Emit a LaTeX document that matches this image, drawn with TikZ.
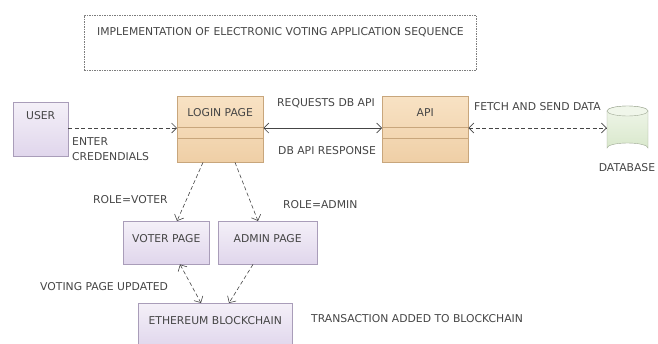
\documentclass[tikz,border=0pt]{standalone}
\usepackage{fontspec}
\setmainfont{DejaVu Sans}
\usepackage{tikz}
\usetikzlibrary{arrows.meta}

\definecolor{lavtop}{HTML}{F4F0F8}
\definecolor{lavbot}{HTML}{E0D6EC}
\definecolor{lavline}{HTML}{A99DB9}
\definecolor{tantop}{HTML}{F8E2C4}
\definecolor{tanbot}{HTML}{EFCFA6}
\definecolor{tanline}{HTML}{C8A67C}
\definecolor{dbtop}{HTML}{F0F6EA}
\definecolor{dbbot}{HTML}{D9E8CC}
\definecolor{dbline}{HTML}{9EA894}
\definecolor{txt}{HTML}{454545}

\tikzset{
    lbl/.style={font=\fontsize{10.8}{12}\selectfont, text=txt, inner sep=0pt},
    pagebox/.style={lbl, draw=lavline, top color=lavtop, bottom color=lavbot, anchor=north west},
    classbox/.style={lbl, draw=tanline, top color=tantop, bottom color=tanbot,
        minimum width=86pt, minimum height=66pt, anchor=north west, text height=20pt, text depth=46pt},
    tip/.style={Straight Barb[length=5pt,width=10pt]},
    flow/.style={dash pattern=on 4pt off 2.5pt, draw=txt, line width=0.6pt, -{Straight Barb[length=5pt,width=10pt]}},
    dflow/.style={flow, {Straight Barb[length=5pt,width=10pt]}-{Straight Barb[length=5pt,width=10pt]}}
}

\begin{document}
\begin{tikzpicture}[x=1pt, y=-1pt]
    \useasboundingbox (0,0) rectangle (658,343);
    % title
    \node[draw=txt!70, dash pattern=on 1.5pt off 1pt, minimum width=392pt, minimum height=55pt,
        anchor=north west] (title) at (84,15) {};
    \node[lbl, anchor=west] (titletext) at (97,32) {IMPLEMENTATION OF ELECTRONIC VOTING APPLICATION SEQUENCE};

    % top row
    \node[pagebox, minimum width=55pt, minimum height=54pt, text height=17pt,
        text depth=37pt] (user) at (13,102) {USER};
    \node[classbox] (login) at (177,96) {LOGIN PAGE};
    \node[classbox] (api) at (382,96) {API};
    \draw[tanline] (177,127) -- (263,127) (177,138) -- (263,138);
    \draw[tanline] (382,127) -- (468,127) (382,138) -- (468,138);
    % database cylinder
    \node[minimum width=41pt, minimum height=47pt, inner sep=0pt] (db) at (627.5,129.5) {};
    \draw[dbline, top color=dbtop, bottom color=dbbot] (607,111) -- (607,148)
        arc[start angle=180, end angle=0, x radius=20.5pt, y radius=5pt] -- (648,111)
        arc[start angle=0, end angle=180, x radius=20.5pt, y radius=5pt] -- cycle;
    \draw[dbline, fill=dbtop] (627.5,111) ellipse [x radius=20.5pt, y radius=5pt];

    % second and third row
    \node[pagebox, minimum width=86pt, minimum height=43pt, text height=21pt,
        text depth=22pt] (voter) at (123,221) {VOTER PAGE};
    \node[pagebox, minimum width=99pt, minimum height=43pt, text height=21pt,
        text depth=22pt] (admin) at (218,221) {ADMIN PAGE};
    \node[pagebox, minimum width=154pt, minimum height=45pt, text height=21pt,
        text depth=24pt] (eth) at (138,303) {ETHEREUM BLOCKCHAIN};

    % labels
    \node[lbl, anchor=west] (enter) at (72,142) {ENTER};
    \node[lbl, anchor=west] (cred) at (72,157) {CREDENDIALS};
    \node[lbl, anchor=west] (req) at (277,103) {REQUESTS DB API};
    \node[lbl, anchor=west] (resp) at (278,151) {DB API RESPONSE};
    \node[lbl, anchor=west] (fetch) at (474,107) {FETCH AND SEND DATA};
    \node[lbl] (dblabel) at (627,168) {DATABASE};
    \node[lbl, anchor=west] (rvoter) at (93,200) {ROLE=VOTER};
    \node[lbl, anchor=west] (radmin) at (283,205) {ROLE=ADMIN};
    \node[lbl, anchor=west] (upd) at (40,287) {VOTING PAGE UPDATED};
    \node[lbl, anchor=west] (trans) at (311,319) {TRANSACTION ADDED TO BLOCKCHAIN};

    % connectors
    \draw[flow] (user.east |- 0,128) -- (login.west |- 0,128);
    \draw[txt, line width=0.6pt, {Straight Barb[length=5pt,width=10pt]}-{Straight Barb[length=5pt,width=10pt]}]
        (login.east |- 0,128) -- (api.west |- 0,128);
    \draw[dflow] (api.east |- 0,128) -- (db.west |- 0,128);
    \draw[flow] (login.south -| 203,0) -- (voter.north -| 177,0);
    \draw[flow] (login.south -| 235,0) -- (admin.north -| 258,0);
    \draw[dflow] (voter.south -| 180,0) -- (eth.north -| 201,0);
    \draw[flow] (admin.south -| 253,0) -- (eth.north -| 229,0);
\end{tikzpicture}
\end{document}
